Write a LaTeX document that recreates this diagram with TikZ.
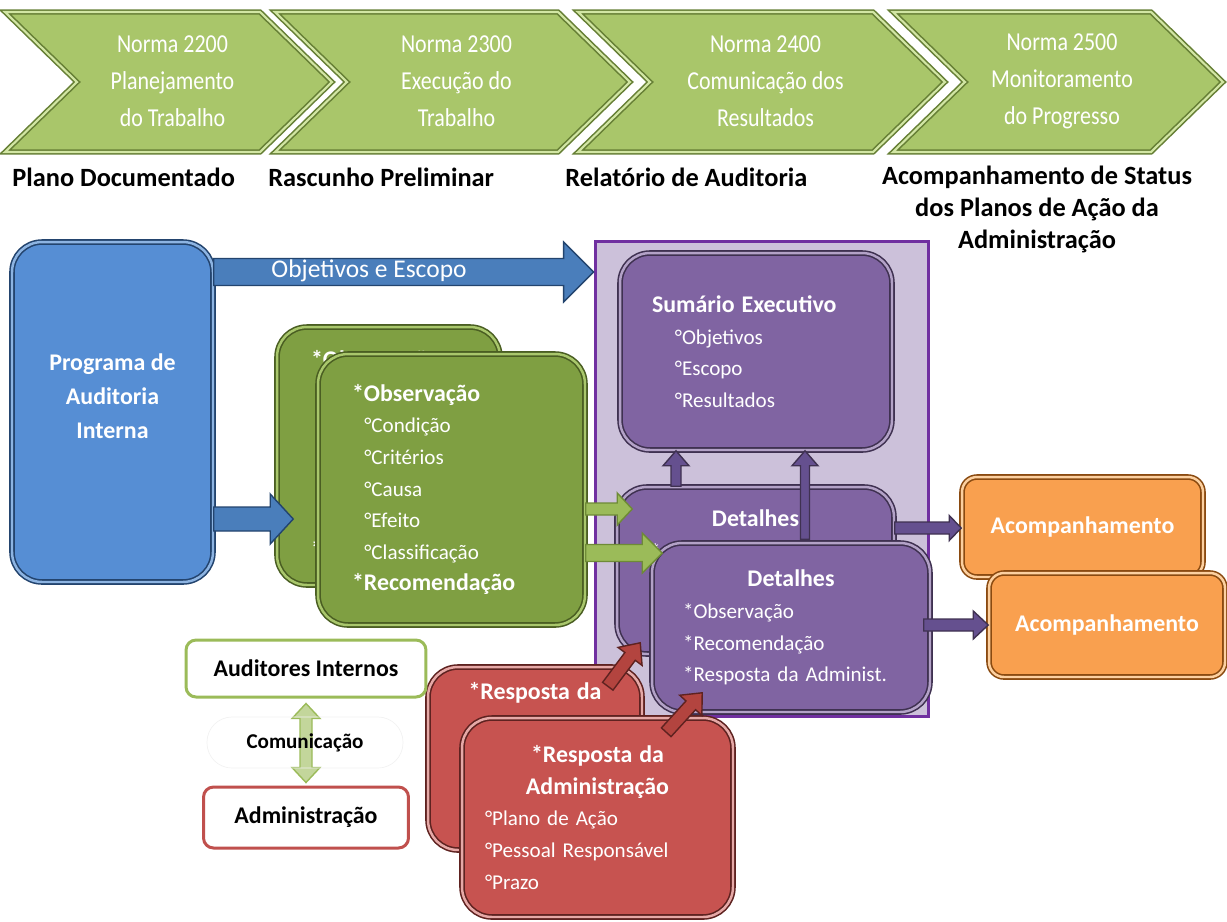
\documentclass[tikz,border=0pt]{standalone}
\usepackage{fontspec}
\setmainfont{Carlito}
\newfontfamily\estreita{Carlito}[FakeStretch=0.85]
\usepackage{tikz}
\usetikzlibrary{positioning,calc}
\definecolor{verdechev}{HTML}{A9C66A}
\definecolor{verdechevesc}{HTML}{667F35}
\definecolor{verdechevclaro}{HTML}{D2E6A4}
\definecolor{verde}{HTML}{7F9F42}
\definecolor{verdeesc}{HTML}{4A5E22}
\definecolor{verdeclaro}{HTML}{A9C76C}
\definecolor{verdeseta}{HTML}{9BBB59}
\definecolor{verdesetaesc}{HTML}{6E8B36}
\definecolor{verdeborda}{HTML}{9BBB59}
\definecolor{verdepalido}{HTML}{C3D69B}
\definecolor{azul}{HTML}{568ED4}
\definecolor{azulesc}{HTML}{23446E}
\definecolor{azulclaro}{HTML}{8DB4E2}
\definecolor{azulseta}{HTML}{4A7EBB}
\definecolor{roxo}{HTML}{8064A2}
\definecolor{roxoesc}{HTML}{3F3151}
\definecolor{roxoclaro}{HTML}{B3A2C7}
\definecolor{roxoseta}{HTML}{65508F}
\definecolor{lilas}{HTML}{CCC1DA}
\definecolor{violeta}{HTML}{7030A0}
\definecolor{laranja}{HTML}{F9A04F}
\definecolor{laranjaesc}{HTML}{8A4A10}
\definecolor{laranjaclaro}{HTML}{FCD0A0}
\definecolor{vermelho}{HTML}{C75350}
\definecolor{vermelhoesc}{HTML}{5E2220}
\definecolor{vermelhoclaro}{HTML}{E6A9A7}
\definecolor{vermelhoseta}{HTML}{B3443F}
\definecolor{vermelhoborda}{HTML}{C0504D}
\hyphenpenalty=10000
\exhyphenpenalty=10000
\newcommand{\tit}[1]{{\fontsize{13.6}{18}\selectfont\bfseries #1}}
% seta larga: estilo, origem, destino, meia haste, meia cabeca, comprimento da cabeca
\newcommand{\seta}[6]{%
  \coordinate (sA) at (#2);
  \coordinate (sB) at (#3);
  \coordinate (sC) at ($(sB)!#6!(sA)$);
  \draw[#1] ($(sA)!#4!90:(sB)$) -- ($(sC)!#4!-90:(sA)$) -- ($(sC)!#5!-90:(sA)$) -- (sB)
    -- ($(sC)!#5!90:(sA)$) -- ($(sC)!#4!90:(sA)$) -- ($(sA)!#4!-90:(sB)$) -- cycle;}
\newcommand{\setadupla}[6]{%
  \coordinate (sA) at (#2);
  \coordinate (sB) at (#3);
  \coordinate (sC) at ($(sB)!#6!(sA)$);
  \coordinate (sD) at ($(sA)!#6!(sB)$);
  \draw[#1] (sA) -- ($(sD)!#5!90:(sB)$) -- ($(sD)!#4!90:(sB)$) -- ($(sC)!#4!-90:(sA)$)
    -- ($(sC)!#5!-90:(sA)$) -- (sB) -- ($(sC)!#5!90:(sA)$) -- ($(sC)!#4!90:(sA)$)
    -- ($(sD)!#4!-90:(sB)$) -- ($(sD)!#5!-90:(sB)$) -- cycle;}

\begin{document}
\begin{tikzpicture}[x=0.02cm, y=-0.02cm, font=\fontsize{12}{18}\selectfont,
      chev/.style={fill=verdechev, draw=verdechevesc, line width=0.9pt, double=verdechevclaro, double distance=1.2pt},
      chevtxt/.style={text=white, align=center, inner sep=0pt, font=\estreita\fontsize{14.7}{21}\selectfont},
      rotulo/.style={inner sep=0pt, align=center, font=\fontsize{15}{18}\selectfont\bfseries},
      caixa/.style={rounded corners=0.6cm, line width=0.9pt, double distance=1.4pt, inner sep=0pt,
                    text=white, align=left},
      cazul/.style={caixa, fill=azul, draw=azulesc, double=azulclaro},
      cverde/.style={caixa, fill=verde, draw=verdeesc, double=verdeclaro},
      croxo/.style={caixa, fill=roxo, draw=roxoesc, double=roxoclaro},
      claranja/.style={caixa, rounded corners=0.3cm, fill=laranja, draw=laranjaesc, double=laranjaclaro,
                       align=center, font=\fontsize{13.6}{18}\selectfont\bfseries},
      cvermelho/.style={caixa, fill=vermelho, draw=vermelhoesc, double=vermelhoclaro},
      papel/.style={draw, line width=1.7pt, rounded corners=0.2cm, fill=white, inner sep=0pt,
                    font=\fontsize{13.6}{18}\selectfont\bfseries},
      sazul/.style={fill=azulseta, draw=azulesc, line width=0.8pt},
      sverde/.style={fill=verdeseta, draw=verdesetaesc, line width=0.8pt},
      sroxo/.style={fill=roxoseta, draw=roxoesc, line width=0.8pt},
      svermelho/.style={fill=vermelhoseta, draw=vermelhoesc, line width=0.8pt},
      sclara/.style={fill=verdepalido, draw=verdeborda, line width=0.8pt}]
    \useasboundingbox (0,0) rectangle (1227,921);
    % normas
    \foreach \xa/\xb/\nome/\txt in {5/332/n2200/{Norma 2200\\Planejamento\\do Trabalho},
        275/630/n2300/{Norma 2300\\Execução do\\Trabalho},
        578/945/n2400/{Norma 2400\\Comunicação dos\\Resultados},
        893/1223/n2500/{Norma 2500\\Monitoramento\\do Progresso}} {
      \draw[chev] (\xa,12) -- (\xb-72,12) -- (\xb,82) -- (\xb-72,152) -- (\xa,152) -- (\xa+72,82) -- cycle;
      \node[chevtxt] (\nome) at ({(\xa+\xb)/2+4},81) {\txt};
    }
    \node[rotulo, anchor=west] (plano) at (12,177) {Plano Documentado};
    \node[rotulo, anchor=west] (rascunho) at (268,177) {Rascunho Preliminar};
    \node[rotulo, anchor=west] (relatorio) at (565,177) {Relatório de Auditoria};
    \node[rotulo, anchor=north] (acompst) at (1037,166) {Acompanhamento de Status\\dos Planos de Ação da\\Administração};
    % relatorio
    \node[draw=violeta, line width=1.7pt, fill=lilas, minimum width=6.68cm, minimum height=9.52cm, inner sep=0pt] (fundo) at (762,479) {};
    \node[cazul, align=center, minimum width=4.02cm, minimum height=6.8cm, text depth=0.64cm,
          font=\fontsize{13.6}{19.3}\selectfont\bfseries] (prog) at (112.5,412) {Programa de\\Auditoria\\Interna};
    % caixa de tras: so o que aparece
    \node[cverde, minimum width=4.46cm, minimum height=5.16cm, text width=3.1cm] (gtras) at (388.5,456)
      {\tit{*Observação}\\ \strut\\ \strut\\ \strut\\ \strut\\ \strut\\ \tit{*Recomendação}};
    \node[cverde, minimum width=5.34cm, minimum height=5.42cm, text width=3.98cm] (gfrente) at (451.5,489.5)
      {\tit{*Observação}\\ \hspace*{7pt}°Condição\\ \hspace*{7pt}°Critérios\\ \hspace*{7pt}°Causa\\
       \hspace*{7pt}°Efeito\\ \hspace*{7pt}°Classificação\\ \tit{*Recomendação}};
    \node[croxo, minimum width=5.44cm, minimum height=3.94cm, text width=4.16cm] (sumario) at (756,351.5)
      {\tit{Sumário Executivo}\\ \hspace*{13pt}°Objetivos\\ \hspace*{13pt}°Escopo\\ \hspace*{13pt}°Resultados};
    \node[croxo, minimum width=5.54cm, minimum height=3.34cm, text width=4.22cm] (dtras) at (755.5,570.5)
      {\makebox[\linewidth]{\tit{Detalhes}}\\ {*}\strut\\ {*}\strut\\ {*}\strut};
    \seta{sroxo}{dtras.north -| 676,0}{sumario.south -| 676,0}{0.1cm}{0.26cm}{0.3cm};
    \node[croxo, minimum width=5.56cm, minimum height=3.38cm, text width=4.32cm] (dfrente) at (791,627.5)
      {\makebox[\linewidth]{\tit{Detalhes}}\\ {*}Observação\\ {*}Recomendação\\ {*}Resposta da Administ.};
    \seta{sroxo}{$(dfrente.north -| 805,0)+(0,-3)$}{sumario.south -| 805,0}{0.09cm}{0.26cm}{0.3cm};
    \node[claranja, minimum width=4.82cm, minimum height=2cm] (acomp1) at (1082.5,527) {Acompanhamento};
    \node[claranja, minimum width=4.72cm, minimum height=2.08cm] (acomp2) at (1107,625) {Acompanhamento};
    % setas
    \seta{sazul}{prog.east |- 0,272}{fundo.west |- 0,272}{0.27cm}{0.6cm}{0.6cm};
    \node[text=white, font=\fontsize{14.5}{17}\selectfont] (objesc) at (369,271) {Objetivos e Escopo};
    \seta{sazul}{prog.east |- 0,519}{$(gtras.west |- 0,519)+(17,0)$}{0.24cm}{0.5cm}{0.46cm};
    \seta{sverde}{gfrente.east |- 0,509}{$(dtras.west |- 0,509)+(16,0)$}{0.12cm}{0.32cm}{0.3cm};
    \seta{sverde}{gfrente.east |- 0,553}{$(dfrente.west |- 0,553)+(11,0)$}{0.17cm}{0.4cm}{0.4cm};
    \seta{sroxo}{dtras.east |- 0,528}{acomp1.west |- 0,528}{0.12cm}{0.25cm}{0.24cm};
    \seta{sroxo}{$(dfrente.east |- 0,625)+(-7,0)$}{acomp2.west |- 0,625}{0.12cm}{0.28cm}{0.3cm};
    % resposta
    \node[cvermelho, minimum width=4.28cm, minimum height=3.66cm, text width=3.36cm] (rtras) at (535,758.5)
      {\makebox[\linewidth]{\tit{*Resposta da}}\\ \strut\\ \strut\\ \strut\\ \strut};
    \node[cvermelho, minimum width=5.42cm, minimum height=3.98cm, text width=4.5cm] (rfrente) at (597.5,817.5)
      {\makebox[\linewidth]{\tit{*Resposta da}}\\ \makebox[\linewidth]{\tit{Administração}}\\
       °Plano de Ação\\ °Pessoal Responsável\\ °Prazo};
    \seta{svermelho}{$(rtras.north east)+(-35,20)$}{$(dtras.south west)+(24,-12)$}{0.13cm}{0.3cm}{0.34cm};
    \seta{svermelho}{$(rfrente.north west)+(205,15)$}{$(dfrente.south west)+(51,-20)$}{0.13cm}{0.3cm}{0.34cm};
    % comunicacao
    \node[papel, draw=verdeborda, minimum width=4.8cm, minimum height=1.14cm] (aud) at (306,668.5) {Auditores Internos};
    \node[papel, draw=vermelhoborda, minimum width=4.1cm, minimum height=1.22cm] (adm) at (306,817.5) {Administração};
    \setadupla{sclara}{$(aud.south)+(0,5)$}{$(adm.north)+(0,-3)$}{0.12cm}{0.28cm}{0.3cm};
    \node[draw=black!5, rounded corners=0.5cm, minimum width=3.92cm, minimum height=1.02cm,
          font=\fontsize{12}{14}\selectfont\bfseries] (com) at (305,742.5) {Comunicação};
  \end{tikzpicture}
\end{document}
